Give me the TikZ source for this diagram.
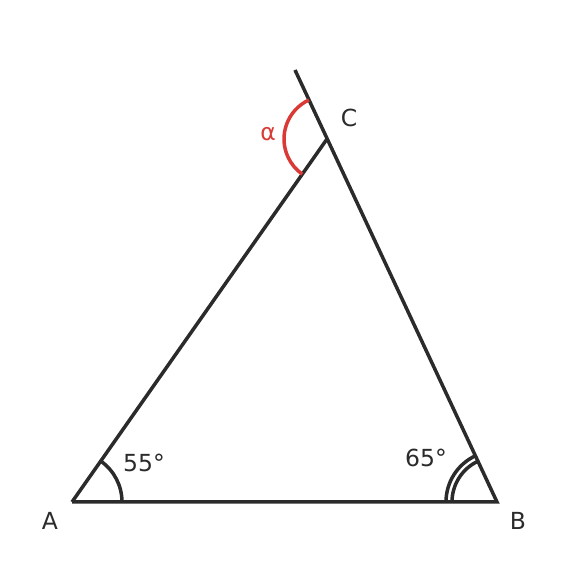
\documentclass[tikz,border=0pt]{standalone}
\usepackage{fontspec}
\setmainfont{DejaVu Sans}
\usetikzlibrary{angles}
\definecolor{ink}{HTML}{2B2B2B}
\definecolor{redarc}{HTML}{D93A36}
\begin{document}
\begin{tikzpicture}[x=1pt,y=1pt,
  edge/.style={draw=ink,line width=3.5pt,line cap=butt,line join=miter},
  arcmark/.style={draw=ink,line width=3.5pt},
  lbl/.style={text=ink,font=\fontsize{23.5}{28}\selectfont,inner sep=0pt}]
\useasboundingbox (0,0) rectangle (568,575);
\coordinate (A) at (72,73);
\coordinate (B) at (497,73);
\coordinate (C) at (327,436);
\coordinate (D) at (295,505);
\draw[edge] (A) -- (B) -- (D);
\draw[edge] (A) -- (C);
\pic[arcmark, angle radius=50pt] {angle=B--A--C};
\pic[arcmark, angle radius=45pt] {angle=C--B--A};
\pic[arcmark, angle radius=51pt] {angle=C--B--A};
\pic[draw=redarc, line width=3.5pt, angle radius=43pt] {angle=D--C--A};
\node[lbl] (lA) at (50,54) {A};
\node[lbl] (lB) at (518,54) {B};
\node[lbl] (lC) at (349,457) {C};
\node[lbl,text=redarc] (la) at (268,441) {α};
\node[lbl] (l55) at (144,112) {55°};
\node[lbl] (l65) at (426,117) {65°};
\end{tikzpicture}
\end{document}
